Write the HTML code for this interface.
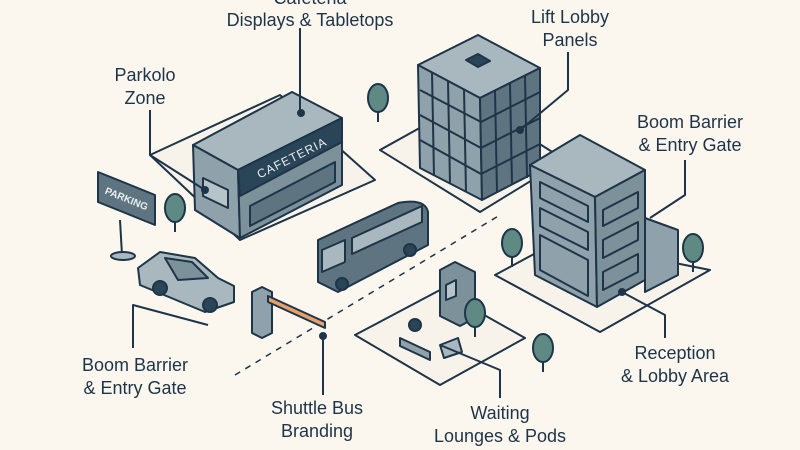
<!DOCTYPE html>
<html><head><meta charset="utf-8"><style>
html,body{margin:0;padding:0;background:#fbf6ee;}
svg{display:block}
text{font-family:"Liberation Sans",sans-serif;font-size:18px;fill:#1e3448;text-anchor:middle}
</style></head><body>
<svg width="800" height="450" viewBox="0 0 800 450" xmlns="http://www.w3.org/2000/svg">
<defs>
<g id="tree"><line x1="0" y1="0" x2="0" y2="22" stroke="#1e3448" stroke-width="2"/><ellipse cx="0" cy="-2" rx="10" ry="14" fill="#5f8a84" stroke="#1e3448" stroke-width="2"/></g>
</defs>
<g stroke="#1e3448" stroke-width="2" stroke-linejoin="round" fill="none">
<polygon points="150,155 280,95 375,180 240,240" fill="#f7f3ea"/>
<polygon points="380,150 470,100 565,160 480,212" fill="#f7f3ea"/>
<polygon points="495,275 560,240 710,270 600,332" fill="#f7f3ea"/>
<polygon points="355,335 440,290 525,338 440,385" fill="#f7f3ea"/>
<line x1="235" y1="375" x2="500" y2="215" stroke-dasharray="6,6" stroke-width="1.5"/>
<polygon points="193,145 292,92 342,118 238,170" fill="#a9b8bf"/>
<polygon points="193,145 238,170 240,238 195,210" fill="#8fa2ab"/>
<polygon points="238,170 342,118 342,185 240,238" fill="#7d919b"/>
<polygon points="238,170 342,118 342,142 240,196" fill="#2a4558"/>
<polygon points="250,206 335,162 335,182 250,226" fill="#5e7581"/>
<polygon points="203,178 228,190 228,208 203,196" fill="#b6c4ca"/>
<polygon points="418,65 478,35 540,68 480,98" fill="#a9b8bf"/>
<polygon points="466,60 478,54 490,61 478,67" fill="#2a4558"/>
<polygon points="418,65 480,98 482,200 420,168" fill="#8fa2ab"/>
<polygon points="480,98 540,68 540,170 482,200" fill="#5e7581"/>
<path d="M432,72 L434,176 M448,81 L450,184 M464,89 L466,192 M420,90 L481,122 M420,115 L481,148 M420,140 L481,174 M495,91 L497,192 M510,83 L512,185 M525,76 L527,178 M481,122 L540,92 M481,148 L540,118 M481,174 L540,144"/>
<polygon points="530,165 580,135 645,170 595,197" fill="#a9b8bf"/>
<polygon points="530,165 595,197 597,307 535,275" fill="#8fa2ab"/>
<polygon points="595,197 645,170 645,280 597,307" fill="#7d919b"/>
<polygon points="645,218 678,230 678,275 645,292" fill="#8fa2ab"/>
<path d="M540,182 L588,206 L588,222 L540,198Z M540,208 L588,232 L588,250 L540,226Z M540,235 L588,260 L588,296 L540,270Z M603,210 L638,192 L638,208 L603,226Z M603,240 L638,222 L638,240 L603,258Z M603,272 L638,254 L638,272 L603,290Z"/>
<line x1="120" y1="220" x2="122" y2="255"/>
<ellipse cx="123" cy="256" rx="12" ry="4" fill="#a9b8bf"/>
<polygon points="98,172 155,195 155,225 98,202" fill="#5e7581"/>
<path d="M138,268 L160,252 L195,258 L218,278 L234,286 L234,302 L205,312 L140,285Z" fill="#a9b8bf"/>
<path d="M165,258 L192,262 L208,278 L178,280Z" fill="#7d919b"/>
<circle cx="160" cy="288" r="7" fill="#2a4558"/><circle cx="210" cy="305" r="7" fill="#2a4558"/>
<path d="M318,240 L398,203 Q425,198 428,212 L428,245 L338,292 L318,282Z" fill="#5e7581"/>
<path d="M322,250 L345,240 L345,262 L322,272Z" fill="#a9b8bf"/>
<path d="M352,238 L422,206 L422,222 L352,254Z" fill="#a9b8bf"/>
<circle cx="342" cy="284" r="6" fill="#2a4558"/><circle cx="410" cy="250" r="6" fill="#2a4558"/>
<polygon points="252,292 262,287 272,292 272,333 262,338 252,333" fill="#8fa2ab"/>
<polygon points="268,296 325,322 325,328 268,302" fill="#e8a06a"/>
<polygon points="440,270 455,262 475,272 475,318 460,326 440,316" fill="#7d919b"/>
<polygon points="446,285 456,280 456,296 446,300" fill="#b6c4ca"/>
<path d="M400,338 L430,352 L430,360 L400,346Z" fill="#8fa2ab"/>
<circle cx="415" cy="325" r="6" fill="#2a4558"/>
<path d="M440,345 L458,338 L462,352 L444,358Z" fill="#a9b8bf"/>
<path d="M300,28 L300,110"/><circle cx="301" cy="113" r="3" fill="#1e3448"/>
<path d="M568,52 L568,90 L520,130"/><circle cx="520" cy="130" r="3" fill="#1e3448"/>
<path d="M150,110 L150,155 L205,190"/><circle cx="205" cy="190" r="3" fill="#1e3448"/>
<path d="M685,160 L685,195 L650,218"/>
<path d="M665,338 L665,315 L622,292"/><circle cx="622" cy="292" r="3" fill="#1e3448"/>
<path d="M133,348 L133,305 L208,325"/>
<path d="M323,395 L323,336"/><circle cx="323" cy="336" r="3" fill="#1e3448"/>
<path d="M500,398 L500,370 L440,345"/>
</g>
<use href="#tree" x="378" y="100"/>
<use href="#tree" x="175" y="210"/>
<use href="#tree" x="512" y="245"/>
<use href="#tree" x="693" y="250"/>
<use href="#tree" x="543" y="350"/>
<use href="#tree" x="475" y="315"/>
<text x="292" y="162" transform="rotate(-26.6 292 158)" style="font-size:12px;fill:#e8eef0;letter-spacing:1px">CAFETERIA</text>
<text x="126" y="202" transform="rotate(22 126 200)" style="font-size:10px;fill:#e8eef0;font-weight:bold">PARKING</text>
<text x="310" y="4">Cafeteria</text>
<text x="310" y="26">Displays &amp; Tabletops</text>
<text x="570" y="23">Lift Lobby</text>
<text x="570" y="46">Panels</text>
<text x="145" y="81">Parkolo</text>
<text x="145" y="104">Zone</text>
<text x="690" y="128">Boom Barrier</text>
<text x="690" y="151">&amp; Entry Gate</text>
<text x="675" y="359">Reception</text>
<text x="675" y="382">&amp; Lobby Area</text>
<text x="135" y="371">Boom Barrier</text>
<text x="135" y="394">&amp; Entry Gate</text>
<text x="317" y="414">Shuttle Bus</text>
<text x="317" y="437">Branding</text>
<text x="500" y="419">Waiting</text>
<text x="500" y="442">Lounges &amp; Pods</text>
</svg>
</body></html>
